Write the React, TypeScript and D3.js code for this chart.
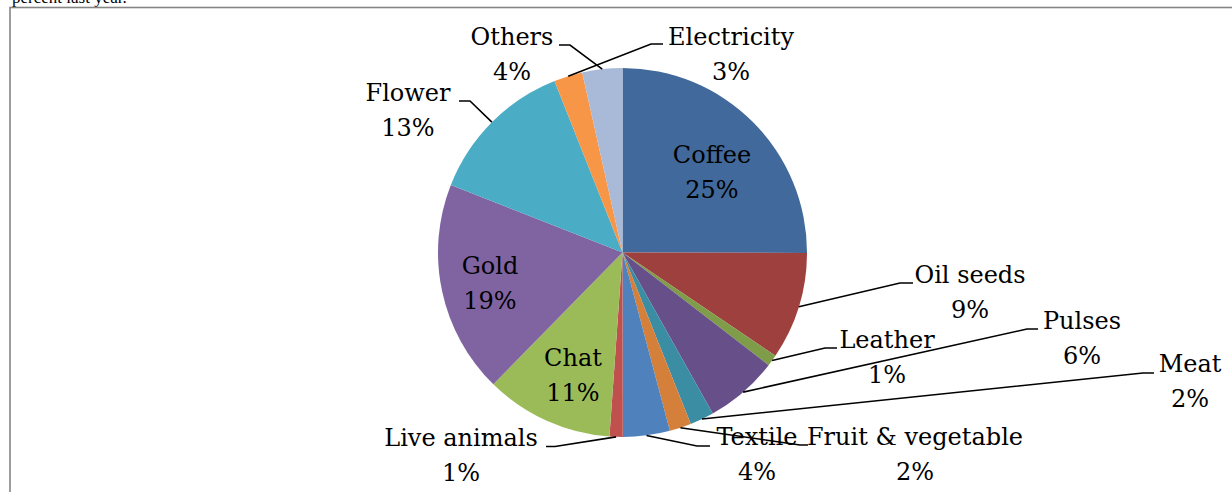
import React from "react";
import * as d3 from "d3";

// Export shares by product (percent of total export earnings)
const categories = [
  "Coffee",
  "Oil seeds",
  "Leather",
  "Pulses",
  "Meat",
  "Fruit & vegetable",
  "Textile",
  "Live animals",
  "Chat",
  "Gold",
  "Flower",
  "Electricity",
  "Others",
];
const shares = [25.0, 9.4, 1.0, 6.4, 2.1, 1.9, 4.1, 1.15, 11.2, 18.6, 13.0, 2.5, 3.5];
const colors = [
  "#41699B",
  "#9E413E",
  "#7F9C49",
  "#67508A",
  "#3B8DA4",
  "#D5803A",
  "#4F81BD",
  "#C0504D",
  "#9BBB59",
  "#8064A2",
  "#4BACC6",
  "#F79646",
  "#A9B9D8",
];

// Label placement: text centre x, first-line baseline y, and an optional leader
// (elbow point where the slanted part meets the short horizontal, then its end x).
type Layout = { x: number; y: number; leader?: { ex: number; ey: number; tx: number } };
const layouts: Layout[] = [
  { x: 712, y: 163 },
  { x: 970, y: 283, leader: { ex: 900, ey: 283, tx: 913 } },
  { x: 887, y: 348, leader: { ex: 825, ey: 348, tx: 837 } },
  { x: 1082, y: 329, leader: { ex: 1027, ey: 329, tx: 1038 } },
  { x: 1190, y: 372, leader: { ex: 1143, ey: 373, tx: 1154 } },
  { x: 915, y: 445, leader: { ex: 800, ey: 445, tx: 808 } },
  { x: 757, y: 445, leader: { ex: 697, ey: 446, tx: 710 } },
  { x: 461, y: 446, leader: { ex: 555, ey: 446.5, tx: 546 } },
  { x: 573, y: 366 },
  { x: 490, y: 274 },
  { x: 408, y: 101, leader: { ex: 470, ey: 101, tx: 459 } },
  { x: 731, y: 45, leader: { ex: 651, ey: 44, tx: 663 } },
  { x: 512, y: 45, leader: { ex: 570, ey: 45, tx: 559 } },
];

const W = 1232;
const H = 492;
const cx = 622.5;
const cy = 252.5;
const R = 184.5;
const LINE = 35;

export default function App() {
  const data = categories.map((name, i) => ({ name, value: shares[i], i }));
  const total = d3.sum(shares);
  const pie = d3
    .pie<{ name: string; value: number; i: number }>()
    .value((d) => d.value)
    .sort(null);
  const arcs = pie(data);
  const arc = d3
    .arc<d3.PieArcDatum<{ name: string; value: number; i: number }>>()
    .innerRadius(0)
    .outerRadius(R);
  const rim = d3
    .arc<d3.PieArcDatum<{ name: string; value: number; i: number }>>()
    .innerRadius(R)
    .outerRadius(R);
  const pct = (v: number) => `${Math.round((v / total) * 100)}%`;
  const line = d3.line();

  return (
    <svg
      width={W}
      height={H}
      viewBox={`0 0 ${W} ${H}`}
      style={{ position: "absolute", left: 0, top: 0, background: "#fff" }}
    >
      <text
        x={12}
        y={3}
        fontFamily="'Liberation Serif', serif"
        fontSize={17}
        fill="#000"
      >
        percent last year.
      </text>
      <rect x={10} y={7.5} width={W} height={H} fill="none" stroke="#858585" strokeWidth={1.6} />
      <g transform={`translate(${cx},${cy})`}>
        {arcs.map((a) => (
          <path key={a.data.name} d={arc(a) ?? ""} fill={colors[a.data.i]} />
        ))}
      </g>
      <g fill="none" stroke="#000" strokeWidth={1.6}>
        {arcs.map((a) => {
          const lay = layouts[a.data.i];
          if (!lay.leader) return null;
          const [px, py] = rim.centroid(a);
          const pts: [number, number][] = [
            [cx + px, cy + py],
            [lay.leader.ex, lay.leader.ey],
            [lay.leader.tx, lay.leader.ey],
          ];
          return <path key={a.data.name} d={line(pts) ?? ""} />;
        })}
      </g>
      <g fontFamily="'DejaVu Serif', serif" fontSize={24} fill="#000" textAnchor="middle">
        {arcs.map((a) => {
          const lay = layouts[a.data.i];
          return (
            <text key={a.data.name} x={lay.x} y={lay.y}>
              <tspan x={lay.x}>{a.data.name}</tspan>
              <tspan x={lay.x} dy={LINE}>
                {pct(a.data.value)}
              </tspan>
            </text>
          );
        })}
      </g>
    </svg>
  );
}
